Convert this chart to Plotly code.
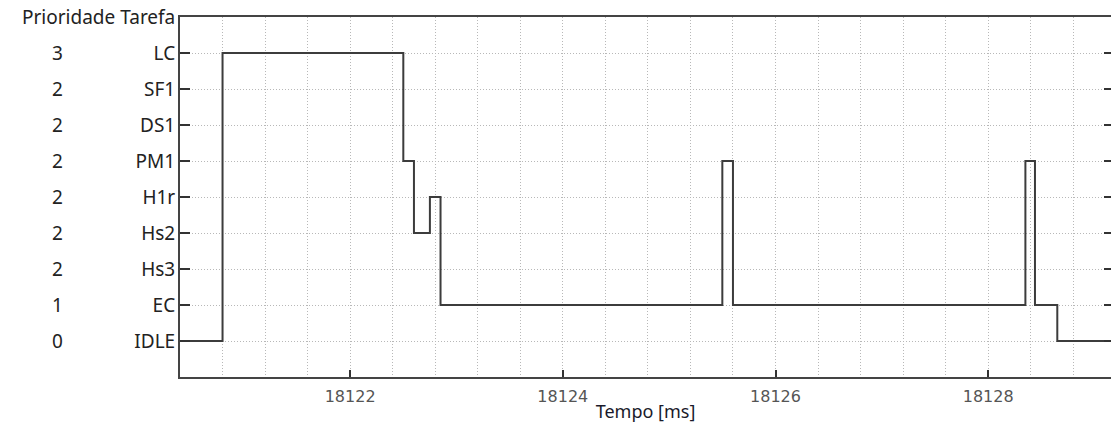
import plotly.graph_objects as go

# Task order on the y axis (bottom to top) and their priorities
tasks_order = ["IDLE", "EC", "Hs3", "Hs2", "H1r", "PM1", "DS1", "SF1", "LC"]
priorities = ["0", "1", "2", "2", "2", "2", "2", "2", "3"]

# Task switch instants (ms) and the task running from that instant on
times = [18120.0, 18120.80, 18122.50, 18122.60, 18122.75, 18122.85,
         18125.50, 18125.60, 18128.35, 18128.44, 18128.65, 18129.6]
running = ["IDLE", "LC", "PM1", "Hs2", "H1r", "EC",
           "PM1", "EC", "PM1", "EC", "IDLE", "IDLE"]

x_tickvals = [18122, 18124, 18126, 18128]
x_range = [18120.40, 18129.155]

label_font = dict(family="Noto Sans, Open Sans, sans-serif", size=19, color="#222222")
grid_col = "#b8b8b8"
grid_dash = "1px,2px"

fig = go.Figure()
fig.add_trace(go.Scatter(
    x=times, y=running, mode="lines", line_shape="hv",
    line=dict(color="#3c3c3c", width=2), hoverinfo="skip", showlegend=False,
))
# invisible copy to host the right-side tick axis
fig.add_trace(go.Scatter(
    x=times, y=running, mode="lines", yaxis="y2",
    line=dict(color="rgba(0,0,0,0)", width=0), hoverinfo="skip", showlegend=False,
))

cat_axis = dict(
    type="category", categoryorder="array", categoryarray=tasks_order,
    range=[-1, len(tasks_order)], tickvals=tasks_order,
)

fig.update_layout(
    width=1111, height=425,
    margin=dict(l=180, r=0, t=17, b=48),
    plot_bgcolor="white", paper_bgcolor="white",
    xaxis=dict(
        range=x_range, tickvals=x_tickvals, ticktext=[str(v) for v in x_tickvals],
        ticks="inside", ticklen=7, tickcolor="#333333", tickwidth=1.5,
        showline=True, linecolor="#444444", linewidth=2, mirror=True,
        showgrid=True, gridcolor=grid_col, griddash=grid_dash, gridwidth=1,
        minor=dict(dtick=0.4, tick0=18122, showgrid=True, gridcolor=grid_col,
                   griddash=grid_dash, gridwidth=1, ticks=""),
        tickfont=dict(family="DejaVu Sans, Verdana, sans-serif", size=16, color="#555555"),
        ticklabelstandoff=4,
        title=dict(text="Tempo [ms]", standoff=0,
                   font=dict(family="Noto Sans, Open Sans, sans-serif", size=18, color="#1a1a2a")),
        zeroline=False,
    ),
    yaxis=dict(
        **cat_axis,
        ticks="inside", ticklen=10, tickcolor="#333333", tickwidth=2,
        showline=True, linecolor="#444444", linewidth=2, mirror=False,
        showgrid=True, gridcolor=grid_col, griddash=grid_dash, gridwidth=1,
        tickfont=label_font, ticklabelstandoff=-1,
        zeroline=False,
    ),
    yaxis2=dict(
        **cat_axis, overlaying="y", side="right",
        ticks="inside", ticklen=7, tickcolor="#333333", tickwidth=2,
        showticklabels=False, showline=False, showgrid=False, zeroline=False,
    ),
)

annotations = [dict(
    text="Prioridade Tarefa", xref="paper", yref="paper", x=0, y=1,
    xanchor="right", yanchor="middle", xshift=-3, showarrow=False,
    font=label_font,
)]
for task, prio in zip(tasks_order, priorities):
    annotations.append(dict(
        text=prio, xref="paper", yref="y", x=-0.1321, y=task,
        xanchor="center", yanchor="middle", showarrow=False, font=label_font,
    ))
fig.update_layout(annotations=annotations)

fig.write_html("out.html")
